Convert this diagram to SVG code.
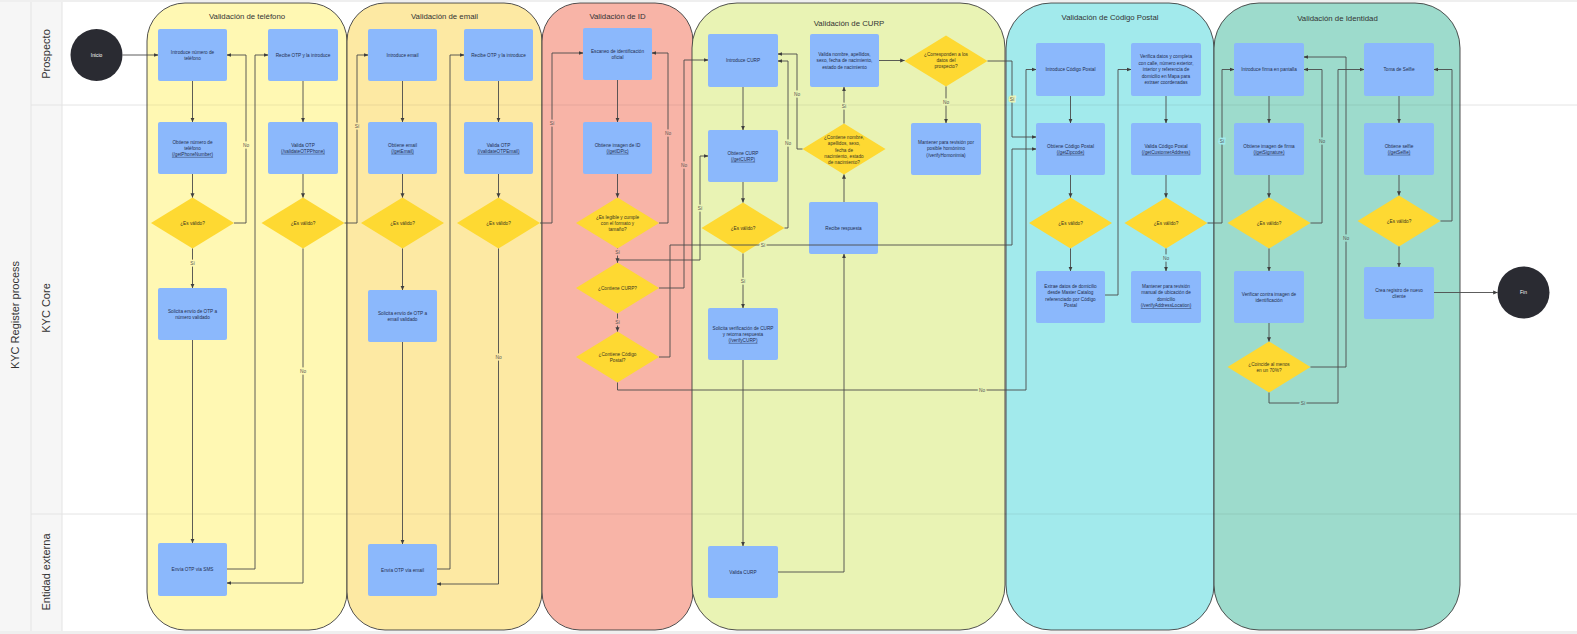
<svg xmlns="http://www.w3.org/2000/svg" width="1577" height="634" viewBox="0 0 1577 634">
  <style>
    .frame { fill: #ffffff; }
    .hdr { fill: #f6f6f6; }
    .sep { stroke: #e4e4e4; stroke-width: 1; fill: none; }
    .lane { stroke: #000000; stroke-opacity: 0.07; stroke-width: 1; }
    .pool { stroke: #3d3d3d; stroke-width: 0.9; }
    .ptitle { font-family: "Liberation Sans", Arial, sans-serif; font-size: 7.8px; fill: #333333; text-anchor: middle; }
    .lanelbl { font-family: "Liberation Sans", Arial, sans-serif; font-size: 11px; fill: #333333; text-anchor: middle; }
    .box { fill: #8bb8fc; }
    .dia { fill: #fed932; }
    .term { fill: #2a2b32; }
    .t { font-family: "Liberation Sans", Arial, sans-serif; font-size: 4.7px; fill: #1f2d4d; text-anchor: middle; }
    .td { font-family: "Liberation Sans", Arial, sans-serif; font-size: 4.7px; fill: #3a3520; text-anchor: middle; }
    .tw { font-family: "Liberation Sans", Arial, sans-serif; font-size: 4.9px; fill: #ffffff; text-anchor: middle; }
    .u { text-decoration: underline; }
    .edge { fill: none; stroke: #4b4b4b; stroke-width: 0.9; stroke-linejoin: round; marker-end: url(#arr); }
    .lbl { font-family: "Liberation Sans", Arial, sans-serif; font-size: 4.8px; fill: #555555; text-anchor: middle; paint-order: stroke; stroke-width: 3px; }
    .on-tel { stroke: #fff8b3; }
    .on-mail { stroke: #fde9a3; }
    .on-id { stroke: #f8b4a7; }
    .on-curp { stroke: #e9f3b4; }
    .on-cp { stroke: #a2eaec; }
    .on-idn { stroke: #9ddbcc; }
  </style>
  <defs>
    <marker id="arr" viewBox="0 0 6 6" refX="5.6" refY="3" markerWidth="4.6" markerHeight="4.6" markerUnits="userSpaceOnUse" orient="auto">
      <path d="M0,0.4 L6,3 L0,5.6 z" fill="#3f3f3f"/>
    </marker>
  </defs>

  <!-- canvas and swimlane header columns -->
  <rect x="0" y="0" width="1577" height="634" fill="#efefef"/>
  <rect class="frame" x="0" y="2" width="1577" height="629"/>
  <rect class="hdr" x="0" y="2" width="62" height="629"/>
  <line class="sep" x1="31" y1="2" x2="31" y2="631"/>
  <line class="sep" x1="62" y1="2" x2="62" y2="631"/>
  <line class="sep" x1="31" y1="105" x2="1577" y2="105"/>
  <line class="sep" x1="31" y1="514" x2="1577" y2="514"/>
  <text class="lanelbl" transform="translate(18.5,315) rotate(-90)" font-size="10.8">KYC Register process</text>
  <text class="lanelbl" transform="translate(50,54) rotate(-90)">Prospecto</text>
  <text class="lanelbl" transform="translate(50,308) rotate(-90)">KYC Core</text>
  <text class="lanelbl" transform="translate(50,572) rotate(-90)">Entidad externa</text>

  <!-- phase containers -->
  <g id="fase-telefono">
    <rect class="pool" x="147" y="3" width="200" height="627" rx="38" ry="38" fill="#fff8b3"/>
    <text class="ptitle" x="247" y="19">Validación de teléfono</text>
  </g>
  <g id="fase-email">
    <rect class="pool" x="347" y="3" width="195" height="627" rx="38" ry="38" fill="#fde9a3"/>
    <text class="ptitle" x="444.5" y="19">Validación de email</text>
  </g>
  <g id="fase-id">
    <rect class="pool" x="542" y="3" width="151" height="627" rx="38" ry="38" fill="#f8b4a7"/>
    <text class="ptitle" x="617.5" y="18.5">Validación de ID</text>
  </g>
  <g id="fase-curp">
    <rect class="pool" x="692" y="3" width="313" height="627" rx="45" ry="45" fill="#e9f3b4"/>
    <text class="ptitle" x="849" y="26">Validación de CURP</text>
  </g>
  <g id="fase-cp">
    <rect class="pool" x="1006" y="3" width="208" height="627" rx="45" ry="45" fill="#a2eaec"/>
    <text class="ptitle" x="1110" y="20">Validación de Código Postal</text>
  </g>
  <g id="fase-identidad">
    <rect class="pool" x="1214" y="3" width="246" height="627" rx="45" ry="45" fill="#9ddbcc"/>
    <text class="ptitle" x="1337.5" y="21">Validación de Identidad</text>
  </g>
  <line class="lane" x1="147" y1="105" x2="1460" y2="105"/>
  <line class="lane" x1="147" y1="514" x2="1460" y2="514"/>

  <!-- nodes -->
  <g id="inicio">
    <circle class="term" cx="96.5" cy="55" r="26"/>
    <text class="tw" x="96.5" y="56.7">Inicio</text>
  </g>

  <g id="tel-introduce">
    <rect class="box" x="158" y="29" width="69" height="52" rx="2"/>
    <text class="t" x="192.5" y="53.6"><tspan x="192.5">Introduce número de</tspan><tspan x="192.5" dy="6.2">teléfono</tspan></text>
  </g>
  <g id="tel-obtiene">
    <rect class="box" x="158" y="122" width="69" height="52" rx="2"/>
    <text class="t" x="192.5" y="143.5"><tspan x="192.5">Obtiene número de</tspan><tspan x="192.5" dy="6.2">teléfono</tspan><tspan x="192.5" dy="6.2" class="u">(/getPhoneNumber)</tspan></text>
  </g>
  <g id="tel-valido">
    <polygon class="dia" points="192.5,197.5 234,223 192.5,248.5 151,223"/>
    <text class="td" x="192.5" y="224.7">¿Es válido?</text>
  </g>
  <g id="tel-solicita">
    <rect class="box" x="158" y="288" width="69" height="52" rx="2"/>
    <text class="t" x="192.5" y="312.6"><tspan x="192.5">Solicita envío de OTP a</tspan><tspan x="192.5" dy="6.2">número validado</tspan></text>
  </g>
  <g id="tel-envia">
    <rect class="box" x="158" y="543" width="69" height="53" rx="2"/>
    <text class="t" x="192.5" y="571.2">Envía OTP vía SMS</text>
  </g>
  <g id="tel-recibe-otp">
    <rect class="box" x="268" y="29" width="70" height="52" rx="2"/>
    <text class="t" x="303" y="56.7">Recibe OTP y la introduce</text>
  </g>
  <g id="tel-valida-otp">
    <rect class="box" x="268" y="122" width="70" height="52" rx="2"/>
    <text class="t" x="303" y="146.6"><tspan x="303">Valida OTP</tspan><tspan x="303" dy="6.2" class="u">(/validateOTPPhone)</tspan></text>
  </g>
  <g id="tel-otp-valido">
    <polygon class="dia" points="303,197.5 344.5,223 303,248.5 261.5,223"/>
    <text class="td" x="303" y="224.7">¿Es válido?</text>
  </g>

  <g id="mail-introduce">
    <rect class="box" x="368" y="29" width="69" height="52" rx="2"/>
    <text class="t" x="402.5" y="56.7">Introduce email</text>
  </g>
  <g id="mail-obtiene">
    <rect class="box" x="368" y="122" width="69" height="52" rx="2"/>
    <text class="t" x="402.5" y="146.6"><tspan x="402.5">Obtiene email</tspan><tspan x="402.5" dy="6.2" class="u">(/getEmail)</tspan></text>
  </g>
  <g id="mail-valido">
    <polygon class="dia" points="402.5,197.5 444,223 402.5,248.5 361,223"/>
    <text class="td" x="402.5" y="224.7">¿Es válido?</text>
  </g>
  <g id="mail-solicita">
    <rect class="box" x="368" y="290" width="69" height="52" rx="2"/>
    <text class="t" x="402.5" y="314.6"><tspan x="402.5">Solicita envío de OTP a</tspan><tspan x="402.5" dy="6.2">email validado</tspan></text>
  </g>
  <g id="mail-envia">
    <rect class="box" x="368" y="544" width="69" height="52" rx="2"/>
    <text class="t" x="402.5" y="571.7">Envía OTP vía email</text>
  </g>
  <g id="mail-recibe-otp">
    <rect class="box" x="464" y="29" width="69" height="52" rx="2"/>
    <text class="t" x="498.5" y="56.7">Recibe OTP y la introduce</text>
  </g>
  <g id="mail-valida-otp">
    <rect class="box" x="464" y="122" width="69" height="52" rx="2"/>
    <text class="t" x="498.5" y="146.6"><tspan x="498.5">Valida OTP</tspan><tspan x="498.5" dy="6.2" class="u">(/validateOTPEmail)</tspan></text>
  </g>
  <g id="mail-otp-valido">
    <polygon class="dia" points="498.5,197.5 540,223 498.5,248.5 457,223"/>
    <text class="td" x="498.5" y="224.7">¿Es válido?</text>
  </g>

  <g id="id-escaneo">
    <rect class="box" x="583" y="28" width="69" height="52" rx="2"/>
    <text class="t" x="617.5" y="52.6"><tspan x="617.5">Escaneo de identificación</tspan><tspan x="617.5" dy="6.2">oficial</tspan></text>
  </g>
  <g id="id-obtiene">
    <rect class="box" x="583" y="122" width="69" height="52" rx="2"/>
    <text class="t" x="617.5" y="146.6"><tspan x="617.5">Obtiene imagen de ID</tspan><tspan x="617.5" dy="6.2" class="u">(/getIDPic)</tspan></text>
  </g>
  <g id="id-legible">
    <polygon class="dia" points="617.5,197.5 659,223 617.5,248.5 576,223"/>
    <text class="td" x="617.5" y="218.5"><tspan x="617.5">¿Es legible y cumple</tspan><tspan x="617.5" dy="6.2">con el formato y</tspan><tspan x="617.5" dy="6.2">tamaño?</tspan></text>
  </g>
  <g id="id-contiene-curp">
    <polygon class="dia" points="617.5,262.5 659,288 617.5,313.5 576,288"/>
    <text class="td" x="617.5" y="289.7">¿Contiene CURP?</text>
  </g>
  <g id="id-contiene-cp">
    <polygon class="dia" points="617.5,331.5 659,357 617.5,382.5 576,357"/>
    <text class="td" x="617.5" y="355.6"><tspan x="617.5">¿Contiene Código</tspan><tspan x="617.5" dy="6.2">Postal?</tspan></text>
  </g>

  <g id="curp-introduce">
    <rect class="box" x="708" y="34" width="70" height="53" rx="2"/>
    <text class="t" x="743" y="62.2">Introduce CURP</text>
  </g>
  <g id="curp-obtiene">
    <rect class="box" x="708" y="130" width="70" height="52" rx="2"/>
    <text class="t" x="743" y="154.6"><tspan x="743">Obtiene CURP</tspan><tspan x="743" dy="6.2" class="u">(/getCURP)</tspan></text>
  </g>
  <g id="curp-valido">
    <polygon class="dia" points="743,202.5 784.5,228 743,253.5 701.5,228"/>
    <text class="td" x="743" y="229.7">¿Es válido?</text>
  </g>
  <g id="curp-solicita">
    <rect class="box" x="708" y="308" width="70" height="52" rx="2"/>
    <text class="t" x="743" y="329.5"><tspan x="743">Solicita verificación de CURP</tspan><tspan x="743" dy="6.2">y retorna respuesta</tspan><tspan x="743" dy="6.2" class="u">(/verifyCURP)</tspan></text>
  </g>
  <g id="curp-externa">
    <rect class="box" x="708" y="546" width="70" height="52" rx="2"/>
    <text class="t" x="743" y="573.7">Valida CURP</text>
  </g>
  <g id="curp-recibe">
    <rect class="box" x="809" y="202" width="69" height="52" rx="2"/>
    <text class="t" x="843.5" y="229.7">Recibe respuesta</text>
  </g>
  <g id="curp-contiene-datos">
    <polygon class="dia" points="844,123.5 885.5,149 844,174.5 802.5,149"/>
    <text class="td" x="844" y="139.2"><tspan x="844">¿Contiene nombre,</tspan><tspan x="844" dy="6.2">apellidos, sexo,</tspan><tspan x="844" dy="6.2">fecha de</tspan><tspan x="844" dy="6.2">nacimiento, estado</tspan><tspan x="844" dy="6.2">de nacimiento?</tspan></text>
  </g>
  <g id="curp-valida-datos">
    <rect class="box" x="810" y="34" width="69" height="53" rx="2"/>
    <text class="t" x="844.5" y="55.7"><tspan x="844.5">Valida nombre, apellidos,</tspan><tspan x="844.5" dy="6.4">sexo, fecha de nacimiento,</tspan><tspan x="844.5" dy="6.4">estado de nacimiento</tspan></text>
  </g>
  <g id="curp-corresponden">
    <polygon class="dia" points="946,35.5 987.5,61 946,86.5 904.5,61"/>
    <text class="td" x="946" y="55.5"><tspan x="946">¿Corresponden a los</tspan><tspan x="946" dy="6.3">datos del</tspan><tspan x="946" dy="6.3">prospecto?</tspan></text>
  </g>
  <g id="curp-homonimo">
    <rect class="box" x="911" y="123" width="70" height="52" rx="2"/>
    <text class="t" x="946" y="144"><tspan x="946">Mantener para revisión por</tspan><tspan x="946" dy="6.3">posible homónimo</tspan><tspan x="946" dy="6.3">(/verifyHomonimia)</tspan></text>
  </g>

  <g id="cp-introduce">
    <rect class="box" x="1036" y="43" width="69" height="53" rx="2"/>
    <text class="t" x="1070.5" y="71.2">Introduce Código Postal</text>
  </g>
  <g id="cp-obtiene">
    <rect class="box" x="1036" y="123" width="69" height="52" rx="2"/>
    <text class="t" x="1070.5" y="147.6"><tspan x="1070.5">Obtiene Código Postal</tspan><tspan x="1070.5" dy="6.2" class="u">(/getZipcode)</tspan></text>
  </g>
  <g id="cp-valido">
    <polygon class="dia" points="1070.5,197.5 1112,223 1070.5,248.5 1029,223"/>
    <text class="td" x="1070.5" y="224.7">¿Es válido?</text>
  </g>
  <g id="cp-extrae">
    <rect class="box" x="1036" y="271" width="69" height="52" rx="2"/>
    <text class="t" x="1070.5" y="288.1"><tspan x="1070.5">Extrae datos de domicilio</tspan><tspan x="1070.5" dy="6.3">desde Master Catalog</tspan><tspan x="1070.5" dy="6.3">referenciado por Código</tspan><tspan x="1070.5" dy="6.3">Postal</tspan></text>
  </g>
  <g id="cp-verifica">
    <rect class="box" x="1131" y="43" width="70" height="53" rx="2"/>
    <text class="t" x="1166" y="58.4"><tspan x="1166">Verifica datos y completa</tspan><tspan x="1166" dy="6.4">con calle, número exterior,</tspan><tspan x="1166" dy="6.4">interior y referencia de</tspan><tspan x="1166" dy="6.4">domicilio en Mapa para</tspan><tspan x="1166" dy="6.4">extraer coordenadas</tspan></text>
  </g>
  <g id="cp-valida">
    <rect class="box" x="1131" y="123" width="70" height="52" rx="2"/>
    <text class="t" x="1166" y="147.6"><tspan x="1166">Valida Código Postal</tspan><tspan x="1166" dy="6.2" class="u">(/getCustomerAddress)</tspan></text>
  </g>
  <g id="cp-valido-2">
    <polygon class="dia" points="1166,197.5 1207.5,223 1166,248.5 1124.5,223"/>
    <text class="td" x="1166" y="224.7">¿Es válido?</text>
  </g>
  <g id="cp-revision">
    <rect class="box" x="1131" y="271" width="70" height="52" rx="2"/>
    <text class="t" x="1166" y="288.1"><tspan x="1166">Mantener para revisión</tspan><tspan x="1166" dy="6.3">manual de ubicación de</tspan><tspan x="1166" dy="6.3">domicilio</tspan><tspan x="1166" dy="6.3" class="u">(/verifyAddressLocation)</tspan></text>
  </g>

  <g id="idn-firma">
    <rect class="box" x="1234" y="43" width="70" height="53" rx="2"/>
    <text class="t" x="1269" y="71.2">Introduce firma en pantalla</text>
  </g>
  <g id="idn-obtiene-firma">
    <rect class="box" x="1234" y="123" width="70" height="52" rx="2"/>
    <text class="t" x="1269" y="147.6"><tspan x="1269">Obtiene imagen de firma</tspan><tspan x="1269" dy="6.2" class="u">(/getSignature)</tspan></text>
  </g>
  <g id="idn-firma-valida">
    <polygon class="dia" points="1269,197.5 1310.5,223 1269,248.5 1227.5,223"/>
    <text class="td" x="1269" y="224.7">¿Es válido?</text>
  </g>
  <g id="idn-verificar">
    <rect class="box" x="1234" y="271" width="70" height="52" rx="2"/>
    <text class="t" x="1269" y="295.6"><tspan x="1269">Verificar contra imagen de</tspan><tspan x="1269" dy="6.2">identificación</tspan></text>
  </g>
  <g id="idn-coincide">
    <polygon class="dia" points="1269,341.5 1310.5,367 1269,392.5 1227.5,367"/>
    <text class="td" x="1269" y="365.6"><tspan x="1269">¿Coincide al menos</tspan><tspan x="1269" dy="6.2">en un 70%?</tspan></text>
  </g>
  <g id="idn-selfie">
    <rect class="box" x="1364" y="43" width="70" height="53" rx="2"/>
    <text class="t" x="1399" y="71.2">Toma de Selfie</text>
  </g>
  <g id="idn-obtiene-selfie">
    <rect class="box" x="1364" y="123" width="70" height="52" rx="2"/>
    <text class="t" x="1399" y="147.6"><tspan x="1399">Obtiene selfie</tspan><tspan x="1399" dy="6.2" class="u">(/getSelfie)</tspan></text>
  </g>
  <g id="idn-selfie-valida">
    <polygon class="dia" points="1399,195.5 1440.5,221 1399,246.5 1357.5,221"/>
    <text class="td" x="1399" y="222.7">¿Es válido?</text>
  </g>
  <g id="idn-crea">
    <rect class="box" x="1364" y="267" width="70" height="52" rx="2"/>
    <text class="t" x="1399" y="291.6"><tspan x="1399">Crea registro de nuevo</tspan><tspan x="1399" dy="6.2">cliente</tspan></text>
  </g>
  <g id="fin">
    <circle class="term" cx="1523.5" cy="292.5" r="26"/>
    <text class="tw" x="1523.5" y="294.2">Fin</text>
  </g>

  <!-- connectors -->
  <g id="connectors">
    <polyline class="edge" points="122.5,55 158,55"/>
    <polyline class="edge" points="192.5,81 192.5,122"/>
    <polyline class="edge" points="192.5,174 192.5,197.5"/>
    <polyline class="edge" points="234,223 246,223 246,55 227,55"/>
    <polyline class="edge" points="192.5,248.5 192.5,288"/>
    <polyline class="edge" points="192.5,340 192.5,543"/>
    <polyline class="edge" points="227,569 255,569 255,55 268,55"/>
    <polyline class="edge" points="303,81 303,122"/>
    <polyline class="edge" points="303,174 303,197.5"/>
    <polyline class="edge" points="303,248.5 303,583 227,583"/>
    <polyline class="edge" points="344.5,223 357,223 357,55 368,55"/>

    <polyline class="edge" points="402.5,81 402.5,122"/>
    <polyline class="edge" points="402.5,174 402.5,197.5"/>
    <polyline class="edge" points="402.5,248.5 402.5,290"/>
    <polyline class="edge" points="402.5,342 402.5,544"/>
    <polyline class="edge" points="437,569 450,569 450,55 464,55"/>
    <polyline class="edge" points="498.5,81 498.5,122"/>
    <polyline class="edge" points="498.5,174 498.5,197.5"/>
    <polyline class="edge" points="498.5,248.5 498.5,584 437,584"/>
    <polyline class="edge" points="540,223 552,223 552,53 583,53"/>

    <polyline class="edge" points="617.5,80 617.5,122"/>
    <polyline class="edge" points="617.5,174 617.5,197.5"/>
    <polyline class="edge" points="659,223 668,223 668,53 652,53"/>
    <polyline class="edge" points="617.5,248.5 617.5,262.5"/>
    <polyline class="edge" points="617.5,262.5 617.5,260 700,260 700,156 708,156"/>
    <polyline class="edge" points="659,288 684,288 684,60 708,60"/>
    <polyline class="edge" points="617.5,313.5 617.5,331.5"/>
    <polyline class="edge" points="659,357 670,357 670,245 1012,245 1012,149 1036,149"/>
    <polyline class="edge" points="617.5,382.5 617.5,390 1026,390 1026,69.5 1036,69.5"/>

    <polyline class="edge" points="743,87 743,130"/>
    <polyline class="edge" points="743,182 743,202.5"/>
    <polyline class="edge" points="784.5,228 788,228 788,61 778,61"/>
    <polyline class="edge" points="743,253.5 743,308"/>
    <polyline class="edge" points="743,360 743,546"/>
    <polyline class="edge" points="778,572 844,572 844,254"/>
    <polyline class="edge" points="844,202 844,174.5"/>
    <polyline class="edge" points="844,123.5 844,87"/>
    <polyline class="edge" points="879,60.5 904.5,60.5"/>
    <polyline class="edge" points="946,86.5 946,123"/>
    <polyline class="edge" points="987.5,61 1012,61 1012,137 1036,137"/>
    <polyline class="edge" points="802.5,149 797,149 797,54 778,54"/>

    <polyline class="edge" points="1070.5,96 1070.5,123"/>
    <polyline class="edge" points="1070.5,175 1070.5,197.5"/>
    <polyline class="edge" points="1070.5,248.5 1070.5,271"/>
    <polyline class="edge" points="1105,295 1118,295 1118,69.5 1131,69.5"/>
    <polyline class="edge" points="1166,96 1166,123"/>
    <polyline class="edge" points="1166,175 1166,197.5"/>
    <polyline class="edge" points="1166,248.5 1166,271"/>
    <polyline class="edge" points="1207.5,223 1222,223 1222,69.5 1234,69.5"/>

    <polyline class="edge" points="1269,96 1269,123"/>
    <polyline class="edge" points="1269,175 1269,197.5"/>
    <polyline class="edge" points="1310.5,223 1322,223 1322,69.5 1304,69.5"/>
    <polyline class="edge" points="1269,248.5 1269,271"/>
    <polyline class="edge" points="1269,323 1269,341.5"/>
    <polyline class="edge" points="1310.5,367 1346,367 1346,57 1304,57"/>
    <polyline class="edge" points="1269,392.5 1269,403 1338,403 1338,69.5 1364,69.5"/>
    <polyline class="edge" points="1399,96 1399,123"/>
    <polyline class="edge" points="1399,175 1399,195.5"/>
    <polyline class="edge" points="1440.5,221 1452,221 1452,69.5 1434,69.5"/>
    <polyline class="edge" points="1399,246.5 1399,267"/>
    <polyline class="edge" points="1434,292.5 1497.5,292.5"/>

    <!-- edge labels -->
    <text class="lbl on-tel" x="246" y="146.5">No</text>
    <text class="lbl on-tel" x="192.5" y="264.5">Sí</text>
    <text class="lbl on-tel" x="303" y="372.5">No</text>
    <text class="lbl on-mail" x="357" y="127.5">Sí</text>
    <text class="lbl on-mail" x="498.5" y="358.5">No</text>
    <text class="lbl on-id" x="552" y="124.5">Sí</text>
    <text class="lbl on-id" x="668" y="134.5">No</text>
    <text class="lbl on-id" x="617.5" y="253.5">Sí</text>
    <text class="lbl on-id" x="684" y="166.5">No</text>
    <text class="lbl on-curp" x="700" y="209.5">Sí</text>
    <text class="lbl on-id" x="617.5" y="323.5">Sí</text>
    <text class="lbl on-curp" x="763" y="246.5">Sí</text>
    <text class="lbl on-curp" x="982" y="391.5">No</text>
    <text class="lbl on-curp" x="788" y="144.5">No</text>
    <text class="lbl on-curp" x="743" y="282.5">Sí</text>
    <text class="lbl on-curp" x="844" y="107.5">Sí</text>
    <text class="lbl on-curp" x="946" y="103.5">No</text>
    <text class="lbl on-curp" x="1012" y="100.5">Sí</text>
    <text class="lbl on-curp" x="797" y="95.5">No</text>
    <text class="lbl on-cp" x="1166" y="259.5">No</text>
    <text class="lbl on-cp" x="1222" y="142.5">Sí</text>
    <text class="lbl on-idn" x="1322" y="142.5">No</text>
    <text class="lbl on-idn" x="1346" y="239.5">No</text>
    <text class="lbl on-idn" x="1303" y="404.5">Sí</text>
  </g>
</svg>
